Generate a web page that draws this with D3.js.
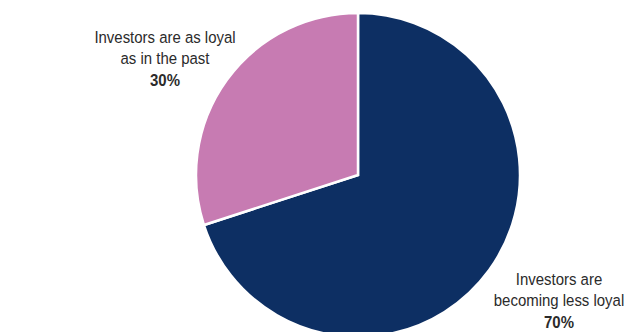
<!DOCTYPE html>
<html>
<head>
<script src="https://d3js.org/d3.v7.min.js"></script>
<style>
  body { margin: 0; background: #fff; }
  text { font-family: "Liberation Sans", Arial, sans-serif; fill: #2b2b2b; font-size: 17px; }
  .pct { font-weight: bold; }
</style>
</head>
<body>
<svg width="643" height="332"></svg>
<script>
var categories = ["Investors are becoming less loyal", "Investors are as loyal as in the past"];
var values = [70, 30];
var colors = ["#0d2f63", "#c77bb2"];
var labelLines = [["Investors are", "becoming less loyal"], ["Investors are as loyal", "as in the past"]];

var svg = d3.select("svg");
var cx = 358, cy = 175, r = 162;

var pie = d3.pie().sort(null).value(function(d) { return d; });
var arc = d3.arc().innerRadius(0).outerRadius(r);

var g = svg.append("g").attr("transform", "translate(" + cx + "," + cy + ")");
g.selectAll("path")
  .data(pie(values))
  .enter()
  .append("path")
  .attr("d", arc)
  .attr("fill", function(d, i) { return colors[i]; })
  .attr("stroke", "#fff")
  .attr("stroke-width", 2.5);

// label anchors, text squeezed to look like the condensed original
var labelPos = [[559, 285], [165, 43]];
categories.forEach(function(c, i) {
  var t = svg.append("g")
    .attr("transform", "translate(" + labelPos[i][0] + "," + labelPos[i][1] + ") scale(0.88,1)")
    .append("text")
    .attr("text-anchor", "middle");
  labelLines[i].forEach(function(line, j) {
    t.append("tspan").attr("x", 0).attr("dy", j === 0 ? 0 : 21.5).text(line);
  });
  t.append("tspan").attr("class", "pct").attr("x", 0).attr("dy", 21.5).text(values[i] + "%");
});
</script>
</body>
</html>
